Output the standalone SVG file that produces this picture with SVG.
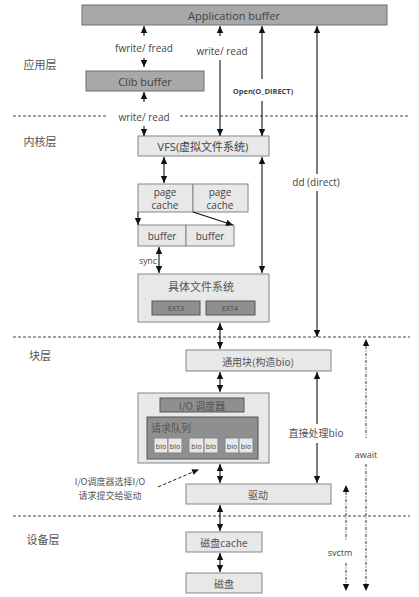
<svg xmlns="http://www.w3.org/2000/svg" width="419" height="597" viewBox="0 0 419 597">
<defs>
<marker id="ah" markerUnits="userSpaceOnUse" markerWidth="8" markerHeight="8" refX="7" refY="4" orient="auto-start-reverse">
<path d="M0,0.8 L7,4 L0,7.2 Z" fill="#111"/>
</marker>
<style>
.t{font-family:"Open Sans","Liberation Sans","Noto Sans CJK SC",sans-serif;fill:#444;text-anchor:middle;dominant-baseline:central}
.cn{font-family:"Noto Sans CJK SC","Liberation Sans",sans-serif;fill:#555;text-anchor:middle;dominant-baseline:central}
.dark{fill:#a8a8a8;stroke:#6e6e6e;stroke-width:1}
.mid{fill:#8f8f8f;stroke:#555;stroke-width:1}
.light{fill:#e8e8e8;stroke:#858585;stroke-width:1}
.a1{stroke:#111;stroke-width:1.1;fill:none;marker-end:url(#ah)}
.a2{stroke:#111;stroke-width:1.1;fill:none;marker-end:url(#ah);marker-start:url(#ah)}
.sep{stroke:#444;stroke-width:1;stroke-dasharray:3,2;fill:none}
.dd{stroke:#333;stroke-width:1;stroke-dasharray:3,1.5,1,1.5;fill:none}
</style>
</defs>
<rect width="419" height="597" fill="#fff"/>

<g id="separators">
<line class="sep" x1="13" y1="116" x2="108" y2="116"/>
<line class="sep" x1="180" y1="116" x2="410" y2="116"/>
<line class="sep" x1="13" y1="337" x2="410" y2="337"/>
<line class="sep" x1="13" y1="516" x2="410" y2="516"/>
</g>

<g id="layer-labels">
<text class="cn" x="40" y="64" font-size="11">应用层</text>
<text class="cn" x="40" y="141" font-size="11">内核层</text>
<text class="cn" x="40" y="355" font-size="11">块层</text>
<text class="cn" x="43" y="539" font-size="11">设备层</text>
</g>

<g id="app-buffer"><rect class="dark" x="82" y="5" width="305" height="20"/><text class="t" x="234" y="15" font-size="11">Application buffer</text></g>
<g id="clib-buffer"><rect class="dark" x="86" y="71" width="118" height="20"/><text class="t" x="145" y="81" font-size="11">Clib buffer</text></g>
<g id="vfs"><rect class="light" x="138" y="136" width="131" height="20"/><text class="t" x="203" y="146" font-size="11">VFS(虚拟文件系统)</text></g>
<g id="page-cache-1"><rect class="light" x="138" y="184" width="55" height="28"/><text class="t" x="165" y="192" font-size="10">page</text><text class="t" x="165" y="205" font-size="10">cache</text></g>
<g id="page-cache-2"><rect class="light" x="193" y="184" width="55" height="28"/><text class="t" x="220" y="192" font-size="10">page</text><text class="t" x="220" y="205" font-size="10">cache</text></g>
<g id="buffer-1"><rect class="light" x="138" y="225" width="48" height="21"/><text class="t" x="162" y="236" font-size="10">buffer</text></g>
<g id="buffer-2"><rect class="light" x="186" y="225" width="48" height="21"/><text class="t" x="210" y="236" font-size="10">buffer</text></g>
<g id="fs">
<rect class="light" x="138" y="274" width="131" height="48"/>
<text class="cn" x="201" y="286" font-size="11">具体文件系统</text>
<rect class="mid" x="152" y="301" width="48" height="14"/><text class="t" x="176" y="308" font-size="7" fill="#333">EXT3</text>
<rect class="mid" x="206" y="301" width="49" height="14"/><text class="t" x="230" y="308" font-size="7">EXT4</text>
</g>
<g id="generic-block"><rect class="light" x="186" y="350" width="145" height="21"/><text class="cn" x="258" y="361" font-size="10">通用块(构造bio)</text></g>
<g id="io-scheduler">
<rect class="light" x="138" y="393" width="131" height="70"/>
<rect class="mid" x="160" y="398" width="84" height="14"/><text class="cn" x="202" y="405" font-size="10" fill="#333">I/O 调度器</text>
<rect class="mid" x="147" y="417" width="111" height="42"/><text class="cn" x="171" y="427" font-size="10" fill="#eee">请求队列</text>
<rect class="light" x="154" y="438" width="14" height="15"/><rect class="light" x="168" y="438" width="14" height="15"/>
<rect class="light" x="189" y="438" width="15" height="15"/><rect class="light" x="204" y="438" width="14" height="15"/>
<rect class="light" x="225" y="438" width="14" height="15"/><rect class="light" x="239" y="438" width="14" height="15"/>
<text class="t" x="161" y="446" font-size="7">bio</text><text class="t" x="175" y="446" font-size="7">bio</text>
<text class="t" x="196.5" y="446" font-size="7">bio</text><text class="t" x="211" y="446" font-size="7">bio</text>
<text class="t" x="232" y="446" font-size="7">bio</text><text class="t" x="246" y="446" font-size="7">bio</text>
</g>
<g id="driver"><rect class="light" x="186" y="484" width="145" height="20"/><text class="cn" x="258" y="494" font-size="10">驱动</text></g>
<g id="disk-cache"><rect class="light" x="186" y="532" width="76" height="20"/><text class="cn" x="224" y="542" font-size="10">磁盘cache</text></g>
<g id="disk"><rect class="light" x="186" y="573" width="76" height="20"/><text class="cn" x="224" y="583" font-size="10">磁盘</text></g>

<g id="connectors">
<line class="a1" x1="144" y1="36" x2="144" y2="26"/>
<text class="t" x="144" y="48" font-size="10">fwrite/ fread</text>
<line class="a1" x1="144" y1="58" x2="144" y2="67"/>
<line class="a1" x1="144" y1="102" x2="144" y2="92"/>
<text class="t" x="144" y="117" font-size="10">write/ read</text>
<line class="a1" x1="144" y1="126" x2="144" y2="136"/>

<line class="a1" x1="220" y1="36" x2="220" y2="26"/>
<text class="t" x="222" y="51" font-size="10">write/ read</text>
<line class="a1" x1="220" y1="60" x2="220" y2="136"/>

<line class="a1" x1="262" y1="79" x2="262" y2="26"/>
<text class="t" x="263" y="91" font-size="7.5" font-weight="bold" fill="#222">Open(O_DIRECT)</text>
<line class="a1" x1="262" y1="101" x2="262" y2="136"/>

<line class="a1" x1="317" y1="174" x2="317" y2="26"/>
<text class="t" x="316" y="182" font-size="10">dd (direct)</text>
<line class="a1" x1="317" y1="191" x2="317" y2="337"/>

<line class="a2" x1="164" y1="157" x2="164" y2="183"/>
<line class="a1" x1="138" y1="212" x2="138" y2="225"/>
<line class="a1" x1="193" y1="212" x2="233" y2="225"/>
<line class="a2" x1="159" y1="247" x2="159" y2="273"/>
<text class="t" x="148" y="260" font-size="8.5">sync</text>
<line class="a2" x1="262" y1="157" x2="262" y2="273"/>

<line class="a2" x1="220" y1="323" x2="220" y2="349"/>
<line class="a2" x1="220" y1="372" x2="220" y2="392"/>
<line class="a2" x1="220" y1="464" x2="220" y2="483"/>
<line class="a2" x1="220" y1="505" x2="220" y2="531"/>
<line class="a2" x1="220" y1="553" x2="220" y2="572"/>

<line class="a1" x1="317" y1="424" x2="317" y2="372"/>
<text class="cn" x="316" y="432" font-size="10">直接处理bio</text>
<line class="a1" x1="317" y1="443" x2="317" y2="483"/>

<line class="dd" x1="366" y1="346" x2="366" y2="438"/>
<polygon points="366,339 362.8,346 369.2,346" fill="#111"/>
<text class="t" x="366" y="454" font-size="9">await</text>
<line class="dd" x1="366" y1="464" x2="366" y2="584"/>
<polygon points="366,591 362.8,584 369.2,584" fill="#111"/>

<line class="dd" x1="346" y1="492" x2="346" y2="540"/>
<polygon points="346,485 342.8,492 349.2,492" fill="#111"/>
<text class="t" x="340" y="552" font-size="9">svctm</text>
<line class="dd" x1="346" y1="563" x2="346" y2="584"/>
<polygon points="346,591 342.8,584 349.2,584" fill="#111"/>

<line x1="158" y1="487" x2="193" y2="472" stroke="#222" stroke-width="1" stroke-dasharray="3.5,2"/>
<polygon points="199,469.5 191.5,469.3 193.6,474.8" fill="#111"/>
<text class="cn" x="110" y="481" font-size="9">I/O调度器选择I/O</text>
<text class="cn" x="110" y="495" font-size="9">请求提交给驱动</text>
</g>
</svg>
